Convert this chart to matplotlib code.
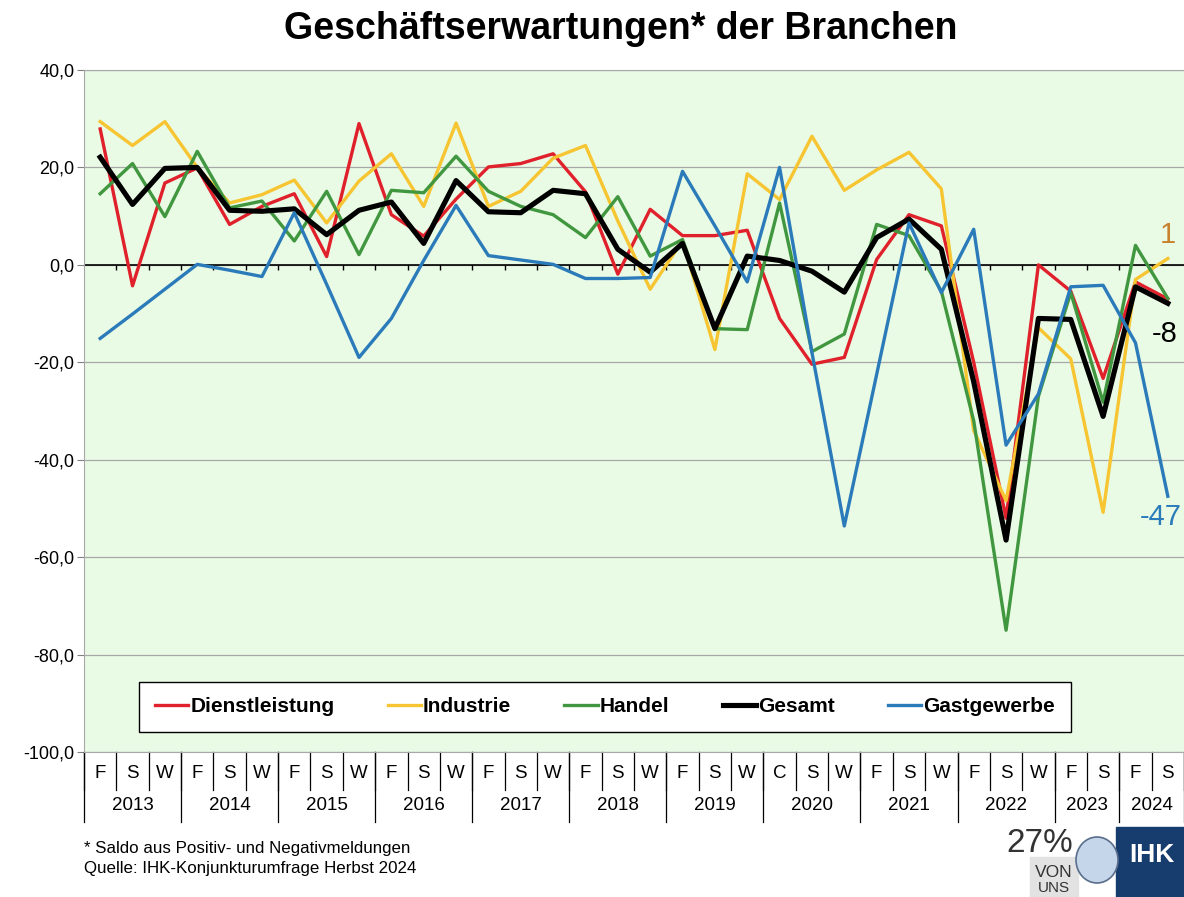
import matplotlib
matplotlib.use('Agg')
import matplotlib.pyplot as plt
import matplotlib.transforms as mtransforms
from matplotlib.patches import Rectangle, Ellipse

plt.rcParams['font.family'] = ['Liberation Sans', 'DejaVu Sans']

# Category labels (half-year / season) and years
seasons = ['F', 'S', 'W'] * 7 + ['C', 'S', 'W'] + ['F', 'S', 'W'] * 2 + ['F', 'S', 'F', 'S']
years = ['2013', '2014', '2015', '2016', '2017', '2018', '2019', '2020',
         '2021', '2022', '2023', '2024']
year_sizes = [3, 3, 3, 3, 3, 3, 3, 3, 3, 3, 2, 2]

# Saldo values per branch
dienstleistung = [27.9, -4.3, 16.8, 19.9, 8.3, 12.0, 14.6, 1.7, 29.0, 10.3, 5.9, 13.5,
                  20.1, 20.8, 22.8, 15.0, -1.9, 11.4, 6.0, 6.0, 7.1, -11.0, -20.4, -19.0,
                  1.1, 10.3, 8.0, -20.0, -52.0, 0.0, -5.4, -23.3, -3.5, -7.0]
industrie = [29.4, 24.5, 29.4, 20.0, 12.7, 14.4, 17.4, 8.6, 17.2, 22.8, 12.0, 29.1,
             12.0, 15.1, 21.9, 24.5, 9.0, -5.0, 5.0, -17.4, 18.7, 13.4, 26.4, 15.3,
             19.5, 23.1, 15.6, -34.0, -48.4, -12.9, -19.3, -50.8, -3.0, 1.3]
handel = [14.6, 20.8, 9.9, 23.3, 11.7, 13.1, 4.9, 15.1, 2.1, 15.3, 14.8, 22.3,
          15.1, 12.0, 10.3, 5.6, 14.0, 1.8, 5.2, -13.1, -13.3, 12.7, -17.8, -14.2,
          8.3, 6.0, -5.4, -32.0, -75.0, -27.0, -5.7, -28.2, 4.0, -6.9]
gesamt = [22.1, 12.4, 19.8, 20.0, 11.2, 11.0, 11.5, 6.2, 11.2, 12.9, 4.4, 17.3,
          10.9, 10.7, 15.3, 14.6, 3.2, -1.5, 4.4, -13.1, 1.8, 0.9, -1.3, -5.6,
          5.6, 9.4, 3.2, -24.0, -56.5, -11.0, -11.2, -31.1, -4.5, -7.9]
gastgewerbe = [-15.1, -10.1, -5.0, 0.1, -1.1, -2.4, 10.7, -4.0, -19.0, -11.0, 0.9, 12.2,
               1.9, 1.0, 0.1, -2.8, -2.8, -2.6, 19.2, 8.0, -3.5, 20.0, -18.0, -53.6,
               -22.5, 8.6, -5.7, 7.3, -37.0, -26.5, -4.5, -4.2, -16.0, -47.5]

c_red = '#E0202A'
c_yel = '#F7C531'
c_grn = '#41973F'
c_blk = '#000000'
c_blu = '#2B7BBA'

fig = plt.figure(figsize=(11.84, 8.97), dpi=100)
ax = fig.add_axes([84 / 1184, 1 - 752 / 897, 1 - 84 / 1184, 682 / 897])
ax.set_facecolor('#E9FBE5')

x = list(range(len(seasons)))
ax.plot(x, dienstleistung, color=c_red, lw=2.4, label='Dienstleistung')
ax.plot(x, industrie, color=c_yel, lw=2.4, label='Industrie')
ax.plot(x, handel, color=c_grn, lw=2.4, label='Handel')
ax.plot(x, gesamt, color=c_blk, lw=3.7, label='Gesamt')
ax.plot(x, gastgewerbe, color=c_blu, lw=2.4, label='Gastgewerbe')

ax.set_xlim(-0.5, len(seasons) - 0.5)
ax.set_ylim(-100, 40)
ax.set_yticks(range(-100, 41, 20))
ax.set_yticklabels([f'{v:.1f}'.replace('.', ',') for v in range(-100, 41, 20)], fontsize=13)
ax.tick_params(axis='y', length=5, color='#808080', pad=2)
ax.set_xticks([])
ax.grid(axis='y', color='#A8A8A8', lw=0.9)
ax.set_axisbelow(True)
for s in ['left', 'top', 'bottom']:
    ax.spines[s].set_color('#A8A8A8')
ax.spines['right'].set_visible(False)

# zero line with category tick marks
ax.axhline(0, color='black', lw=1.2, zorder=1.5)
ax.vlines([i + 0.5 for i in x[:-1]], -1.1, 0, color='black', lw=1.0, zorder=1.5)

# multi-level category axis below the plot
trans = mtransforms.blended_transform_factory(ax.transData, ax.transAxes)
for i, lab in enumerate(seasons):
    ax.text(i, -0.031, lab, transform=trans, ha='center', va='center', fontsize=13.5)
for b in range(len(seasons) + 1):
    ax.plot([b - 0.5, b - 0.5], [0, -0.056], transform=trans, color='black',
            lw=0.9, clip_on=False)
start = 0
for yr, n in zip(years, year_sizes):
    ax.text(start + n / 2 - 0.5, -0.079, yr, transform=trans, ha='center',
            va='center', fontsize=13.5)
    ax.plot([start - 0.5, start - 0.5], [0, -0.103], transform=trans, color='black',
            lw=0.9, clip_on=False)
    start += n
ax.plot([start - 0.5, start - 0.5], [0, -0.103], transform=trans, color='black',
        lw=0.9, clip_on=False)

# end labels
last = len(seasons) - 1
ax.annotate('1', (last, industrie[-1]), xytext=(0, 17), textcoords='offset points',
            ha='center', va='center', fontsize=21, color='#C8822E')
ax.annotate('-8', (last, gesamt[-1]), xytext=(-2, -22), textcoords='offset points',
            ha='center', va='center', fontsize=21, color='black')
ax.annotate('-47', (last, gastgewerbe[-1]), xytext=(-5, -15), textcoords='offset points',
            ha='center', va='center', fontsize=21, color=c_blu)

leg = ax.legend(loc='lower center', bbox_to_anchor=(0.4736, 0.0293), ncol=5,
                frameon=True, fancybox=False, edgecolor='black', framealpha=1,
                prop={'weight': 'bold', 'size': 15},
                handlelength=1.6, handletextpad=0.1, columnspacing=2.55,
                borderpad=0.75, borderaxespad=0)
leg.get_frame().set_linewidth(1.0)

fig.text(621 / 1184, 1 - 29 / 897, 'Geschäftserwartungen* der Branchen',
         ha='center', va='center', fontsize=27, fontweight='bold')
fig.text(84 / 1184, 1 - 848 / 897, '* Saldo aus Positiv- und Negativmeldungen',
         ha='left', va='center', fontsize=12.2)
fig.text(84 / 1184, 1 - 868 / 897, 'Quelle: IHK-Konjunkturumfrage Herbst 2024',
         ha='left', va='center', fontsize=12.2)

# logo approximation
fig.patches.append(Rectangle((1030 / 1184, 0), 48 / 1184, 40 / 897,
                             transform=fig.transFigure, color='#E2E2E2', zorder=0))
fig.patches.append(Rectangle((1116 / 1184, 0), 68 / 1184, 70 / 897,
                             transform=fig.transFigure, color='#173D6E'))
fig.patches.append(Ellipse((1097 / 1184, 1 - 860 / 897), 42 / 1184, 46 / 897,
                           transform=fig.transFigure, facecolor='#C5D5EA',
                           edgecolor='#5A6E8C', lw=1.2))
fig.text(1040 / 1184, 1 - 843 / 897, '27%', ha='center', va='center',
         fontsize=24, color='#333333')
fig.text(1054 / 1184, 1 - 872 / 897, 'VON', ha='center', va='center',
         fontsize=12.5, color='#333333')
fig.text(1054 / 1184, 1 - 888 / 897, 'UNS', ha='center', va='center',
         fontsize=11, color='#333333')
fig.text(1152 / 1184, 1 - 855 / 897, 'IHK', ha='center', va='center',
         fontsize=19, color='white', fontweight='bold')

fig.savefig('out.png', dpi=100)
